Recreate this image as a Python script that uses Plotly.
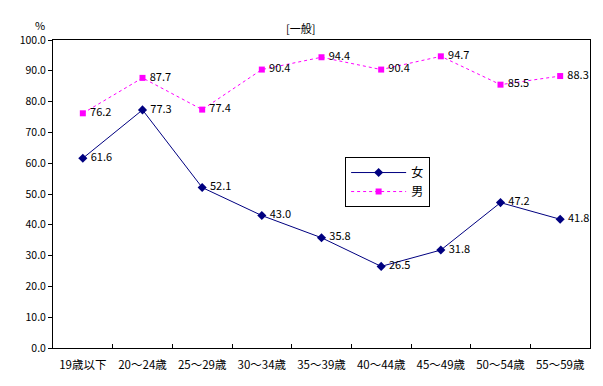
import plotly.graph_objects as go

categories = ["19歳以下", "20～24歳", "25～29歳", "30～34歳", "35～39歳",
              "40～44歳", "45～49歳", "50～54歳", "55～59歳"]
female = [61.6, 77.3, 52.1, 43.0, 35.8, 26.5, 31.8, 47.2, 41.8]
male = [76.2, 87.7, 77.4, 90.4, 94.4, 90.4, 94.7, 85.5, 88.3]

FONT = "Noto Sans CJK JP, sans-serif"

fig = go.Figure()
fig.add_trace(go.Scatter(
    x=categories, y=female, name="女", mode="lines+markers+text",
    line=dict(color="#000080", width=1),
    marker=dict(symbol="diamond", size=7, color="#000080"),
    text=[f" {v:.1f}" for v in female], textposition="middle right",
    textfont=dict(size=11, color="black", family=FONT),
))
fig.add_trace(go.Scatter(
    x=categories, y=male, name="男", mode="lines+markers+text",
    line=dict(color="#FF00FF", width=1, dash="dot"),
    marker=dict(symbol="square", size=6, color="#FF00FF"),
    text=[f" {v:.1f}" for v in male], textposition="middle right",
    textfont=dict(size=11, color="black", family=FONT),
))

fig.update_layout(
    width=603, height=386,
    margin=dict(l=45, r=21, t=32, b=46, autoexpand=False),
    paper_bgcolor="white", plot_bgcolor="white",
    font=dict(family=FONT, size=11, color="black"),
    showlegend=True,
    legend=dict(x=0.544, y=0.62, xanchor="left", yanchor="top",
                bordercolor="black", borderwidth=1, bgcolor="white",
                font=dict(size=12), tracegroupgap=2, itemwidth=55),
    xaxis=dict(type="category", range=[-0.5, 8.5], showline=True,
               linecolor="black", linewidth=1, mirror=True,
               ticks="inside", tickson="boundaries", ticklen=4,
               tickcolor="black", showgrid=False, ticklabelstandoff=6,
               tickfont=dict(size=11.5)),
    yaxis=dict(range=[0, 100], dtick=10, tickformat=".1f", showline=True,
               linecolor="black", linewidth=1, mirror=True,
               ticks="outside", ticklen=4, tickcolor="black",
               showgrid=False, zeroline=False,
               tickfont=dict(size=10.5)),
    annotations=[
        dict(text="[一般]", xref="paper", yref="paper", x=0.46, y=1.0,
             yshift=22, showarrow=False, xanchor="center",
             font=dict(size=11)),
        dict(text="%", xref="paper", yref="paper", x=-0.025, y=1.0,
             yshift=25, showarrow=False, xanchor="center",
             font=dict(size=11)),
    ],
)

fig.write_html("out.html")
